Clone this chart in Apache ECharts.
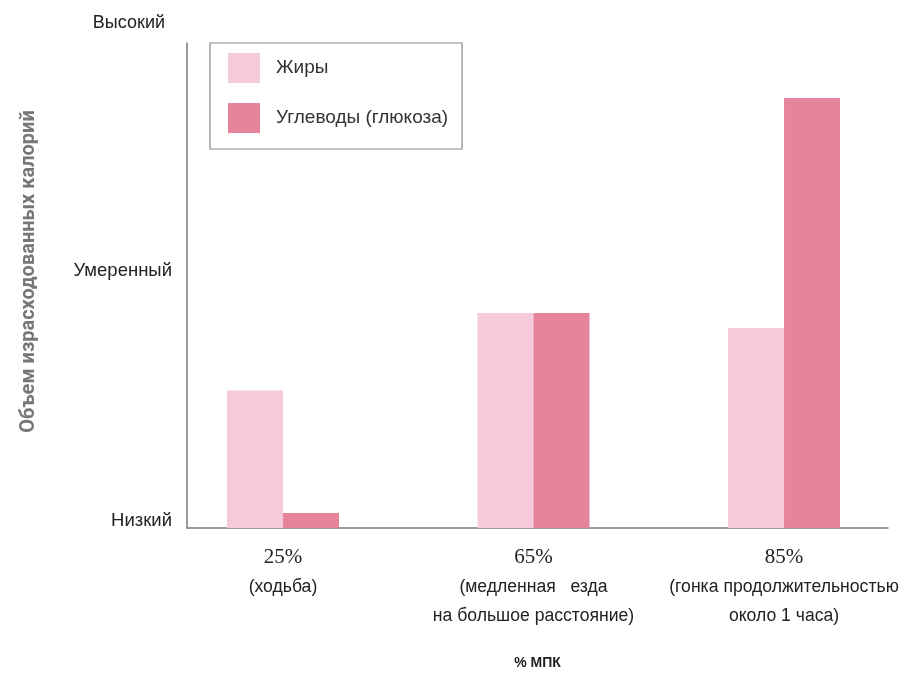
<!DOCTYPE html>
<html><head><meta charset="utf-8">
<script src="https://cdn.jsdelivr.net/npm/echarts@6/dist/echarts.min.js"></script>
<style>html,body{margin:0;padding:0;background:#fff}#c{width:919px;height:674px}</style>
</head><body><div id="c"></div>
<script>
const categories = ['25%', '65%', '85%'];
const categoryNotes = ['(ходьба)', '(медленная   езда\nна большое расстояние)', '(гонка продолжительностью\nоколо 1 часа)'];
const seriesNames = ['Жиры', 'Углеводы (глюкоза)'];
const fatValues = [0.55, 0.86, 0.80];
const carbValues = [0.06, 0.86, 1.72];
const yLevelLabels = ['Низкий', 'Умеренный', 'Высокий'];
const yAxisTitle = 'Объем израсходованных калорий';
const xAxisTitle = '% МПК';

const chart = echarts.init(document.getElementById('c'), null, {renderer: 'canvas'});
const sans = 'Liberation Sans, Arial, sans-serif';
const toPoints = vals => vals.map((v, i) => [i, v]);

chart.setOption({
  animation: false,
  backgroundColor: '#ffffff',
  grid: {left: 187, right: 31, top: 43, bottom: 146, containLabel: false, outerBoundsMode: 'none'},
  legend: {
    orient: 'vertical', left: 210, top: 43,
    data: seriesNames,
    icon: 'rect', itemWidth: 32, itemHeight: 30, itemGap: 20,
    padding: [10, 14, 16, 18],
    borderColor: '#8a8a8a', borderWidth: 1.2,
    textStyle: {fontFamily: sans, fontSize: 19, color: '#333', padding: [0, 0, 0, 11]}
  },
  xAxis: {
    type: 'value', min: -0.383, max: 2.415,
    name: xAxisTitle, nameLocation: 'middle', nameGap: 128,
    nameTextStyle: {fontFamily: sans, fontSize: 14, fontWeight: 'bold', color: '#222'},
    splitLine: {show: false},
    axisTick: {show: false},
    axisLine: {show: true, onZero: false, lineStyle: {color: '#7a7a7a', width: 1.5}},
    axisLabel: {
      customValues: [0, 1, 2],
      margin: 14,
      formatter: v => {
        const i = Math.round(v);
        if (categories[i] === undefined) return '';
        return '{p|' + categories[i] + '}\n' + categoryNotes[i].split('\n').map(s => '{d|' + s + '}').join('\n');
      },
      rich: {
        p: {fontFamily: 'Liberation Serif, Times New Roman, serif', fontSize: 21, lineHeight: 31, color: '#222', align: 'center'},
        d: {fontFamily: sans, fontSize: 17.6, lineHeight: 29, color: '#222', align: 'center'}
      }
    }
  },
  yAxis: [{
    type: 'value', min: 0, max: 1.94,
    name: yLevelLabels[2], nameLocation: 'end', nameGap: 11,
    nameTextStyle: {fontFamily: sans, fontSize: 18, color: '#222', align: 'right', padding: [0, 22, 0, 0]},
    splitLine: {show: false},
    axisTick: {show: false},
    axisLine: {show: true, onZero: false, lineStyle: {color: '#7a7a7a', width: 1.5}},
    axisLabel: {
      customValues: [0, 1],
      margin: 15,
      fontFamily: sans, fontSize: 18.5, color: '#222',
      verticalAlign: 'bottom', lineHeight: 14,
      formatter: v => { const i = Math.round(v); return Math.abs(v - i) < 1e-6 && yLevelLabels[i] ? yLevelLabels[i] : ''; }
    }
  }, {
    type: 'value', min: 0, max: 1.94, position: 'left',
    name: yAxisTitle, nameLocation: 'middle', nameRotate: 90, nameGap: 148,
    nameTextStyle: {fontFamily: 'Roboto, Liberation Sans, sans-serif', fontSize: 20, fontWeight: 'bold', color: '#777777', padding: [0, 0, 0, 28]},
    axisLine: {show: false, onZero: false}, axisTick: {show: false}, axisLabel: {show: false}, splitLine: {show: false}
  }],
  series: [{
    name: seriesNames[0], type: 'bar', barWidth: 56, barGap: '0%',
    itemStyle: {color: '#f5cbdc'},
    data: toPoints(fatValues)
  }, {
    name: seriesNames[1], type: 'bar', barWidth: 56, barGap: '0%',
    itemStyle: {color: '#e6849b'},
    data: toPoints(carbValues)
  }]
});
</script></body></html>
